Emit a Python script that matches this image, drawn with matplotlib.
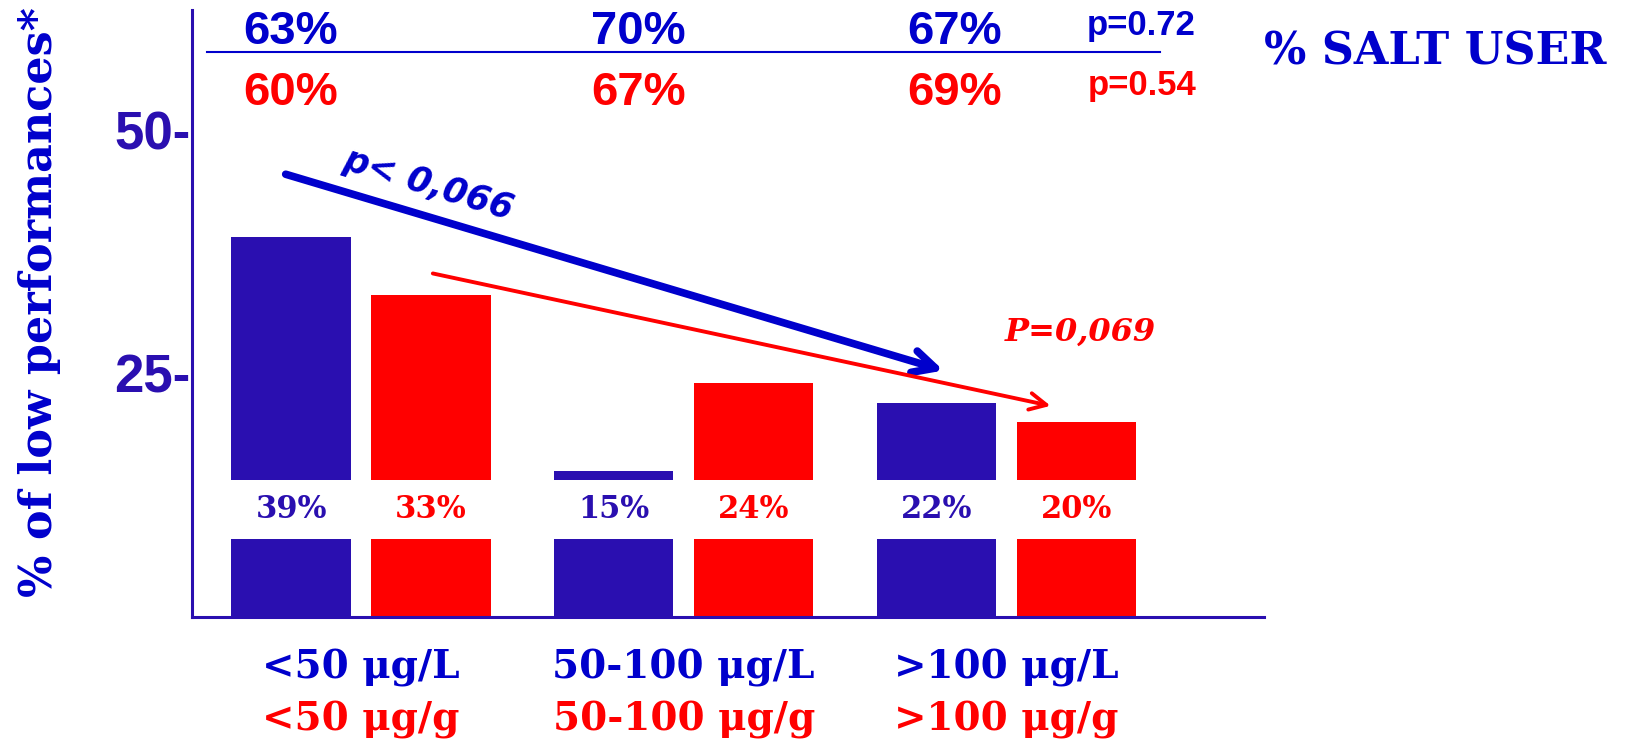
import matplotlib
matplotlib.use('Agg')
import matplotlib.pyplot as plt
import numpy as np

# iodine categories (urine / salt)
cat_urine = ['<50 μg/L', '50-100 μg/L', '>100 μg/L']
cat_salt = ['<50 μg/g', '50-100 μg/g', '>100 μg/g']
low_perf_urine = [39, 15, 22]
low_perf_salt = [33, 24, 20]
salt_user_urine = ['63%', '70%', '67%']
salt_user_salt = ['60%', '67%', '69%']
p_urine = 'p=0.72'
p_salt = 'p=0.54'
yticks = [25, 50]

BAR_BLUE = '#2A0FB0'
BLUE = '#0000CC'
RED = '#FF0000'
gap = (8, 14)   # white break in the bars

SERIF = 'DejaVu Serif'
NARROW = ['Liberation Sans Narrow', 'Liberation Sans']

fig = plt.figure(figsize=(16.25, 7.46), dpi=100)
ax = fig.add_axes([0.118, 0.173, 0.66, 0.814])

x = np.arange(len(cat_urine))
w = 0.37
off = 0.217
for xs, vals, col in [(x - off, low_perf_urine, BAR_BLUE), (x + off, low_perf_salt, RED)]:
    vals = np.array(vals)
    ax.bar(xs, np.full(len(vals), gap[0]), w, color=col)
    ax.bar(xs, vals - gap[1], w, bottom=gap[1], color=col)
    for xi, v in zip(xs, vals):
        ax.text(xi, (gap[0] + gap[1]) / 2, f'{v}%', ha='center', va='center',
                color=col, fontsize=22, fontweight='bold', family=SERIF)

ax.set_xlim(-0.525, 2.80)
ax.set_ylim(0, 62.3)
ax.set_xticks([])
ax.set_yticks(yticks, [f'{t}-' for t in yticks])
ax.tick_params(axis='y', length=0, pad=1, labelsize=38, labelcolor=BAR_BLUE)
for lab in ax.get_yticklabels():
    lab.set_fontweight('bold')
    lab.set_family('Liberation Sans')
for s in ['top', 'right']:
    ax.spines[s].set_visible(False)
for s in ['left', 'bottom']:
    ax.spines[s].set_color(BAR_BLUE)
    ax.spines[s].set_linewidth(2.2)

# salt user percentages above the bars
head_x = [-0.22, 0.86, 1.84]
for hx, a, b in zip(head_x, salt_user_urine, salt_user_salt):
    ax.text(hx, 60.0, a, ha='center', va='center', color=BLUE, fontsize=34,
            fontweight='bold', family=NARROW)
    ax.text(hx, 53.8, b, ha='center', va='center', color=RED, fontsize=34,
            fontweight='bold', family=NARROW)
ax.text(2.42, 60.7, p_urine, ha='center', va='center', color=BLUE, fontsize=25,
        fontweight='bold', family=NARROW)
ax.text(2.42, 54.5, p_salt, ha='center', va='center', color=RED, fontsize=25,
        fontweight='bold', family=NARROW)
ax.plot([-0.478, 2.478], [58.0, 58.0], color=BLUE, lw=1.5, clip_on=False)
fig.text(0.883, 0.930, '% SALT USER', ha='center', va='center', color=BLUE,
         fontsize=32, fontweight='bold', family=SERIF)

# trend arrows
ax.annotate('', xy=(1.814, 25.2), xytext=(-0.242, 45.5),
            arrowprops=dict(arrowstyle='->', color=BLUE, lw=5.5, mutation_scale=40))
ax.annotate('', xy=(2.146, 21.6), xytext=(0.214, 35.3),
            arrowprops=dict(arrowstyle='->', color=RED, lw=2.8, mutation_scale=30))
ax.text(0.21, 44.4, 'p< 0,066', ha='center', va='center', rotation=-17, color=BLUE,
        fontsize=25, fontweight='bold', style='italic', family='DejaVu Sans')
ax.text(2.23, 29.2, 'P=0,069', ha='center', va='center', color=RED,
        fontsize=23, fontweight='bold', style='italic', family=SERIF)

# category labels
tr = matplotlib.transforms.blended_transform_factory(ax.transData, fig.transFigure)
for xi, a, b in zip(x, cat_urine, cat_salt):
    ax.text(xi, 0.1046, a, transform=tr, ha='center', va='center', color=BLUE,
            fontsize=28, fontweight='bold', family=SERIF)
    ax.text(xi, 0.035, b, transform=tr, ha='center', va='center', color=RED,
            fontsize=28, fontweight='bold', family=SERIF)

fig.text(0.0246, 0.595, '% of low performances*', rotation=90, ha='center', va='center',
         color=BLUE, fontsize=32, fontweight='bold', family=SERIF)

fig.savefig('out.png', dpi=100)
